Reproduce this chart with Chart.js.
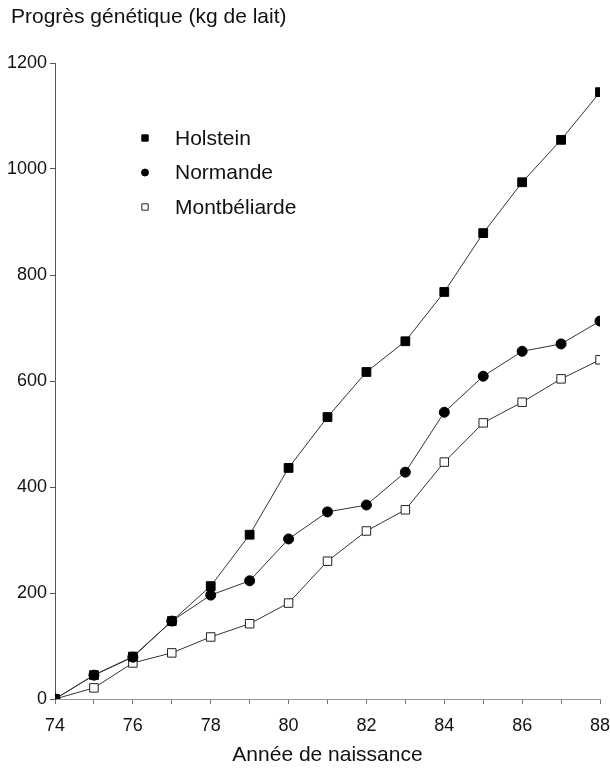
<!DOCTYPE html>
<html>
<head>
<meta charset="utf-8">
<script src="https://cdn.jsdelivr.net/npm/chart.js@4"></script>
<style>
  html, body { margin: 0; padding: 0; background: #fff; }
  #wrap { width: 610px; height: 772px; }
</style>
</head>
<body>
<div id="wrap"><canvas id="progres"></canvas></div>
<script>
const years = [74, 75, 76, 77, 78, 79, 80, 81, 82, 83, 84, 85, 86, 87, 88];
const holstein = [0, 45, 80, 147, 213, 310, 436, 532, 617, 675, 768, 879, 975, 1055, 1145];
const normande = [0, 45, 79, 147, 196, 223, 302, 353, 366, 428, 541, 609, 656, 670, 713];
const montbeliarde = [0, 21, 68, 87, 117, 142, 181, 260, 317, 357, 447, 521, 560, 604, 640];
const seriesNames = ['Holstein', 'Normande', 'Montbéliarde'];
const yTicks = [0, 200, 400, 600, 800, 1000, 1200];
const yTitle = 'Progrès génétique (kg de lait)';

const font = 'Liberation Sans, Arial, Helvetica, sans-serif';

function points(values) {
  return years.map((y, i) => ({ x: y, y: values[i] }));
}

// titre de l'axe y, en haut a gauche
const topTitle = {
  id: 'topTitle',
  afterDraw(chart) {
    const ctx = chart.ctx;
    ctx.save();
    ctx.fillStyle = '#111';
    ctx.font = '21px ' + font;
    ctx.textBaseline = 'middle';
    ctx.textAlign = 'left';
    ctx.fillText(yTitle, 11, 17);
    ctx.restore();
  }
};

// legende dessinee dans la zone du graphique
const insideLegend = {
  id: 'insideLegend',
  afterDraw(chart) {
    const ctx = chart.ctx;
    const area = chart.chartArea;
    const x0 = area.left + 90;
    const y0 = area.top + 75;
    ctx.save();
    chart.data.datasets.forEach((ds, i) => {
      const y = y0 + i * 34.5;
      ctx.fillStyle = ds.pointBackgroundColor;
      ctx.strokeStyle = ds.pointBorderColor;
      ctx.lineWidth = 1;
      Chart.helpers.drawPoint(ctx, {
        pointStyle: ds.pointStyle,
        radius: ds.pointStyle === 'circle' ? 3.5 : 4.5,
        rotation: 0,
        borderWidth: 1
      }, x0, y);
      ctx.fillStyle = '#111';
      ctx.font = '21px ' + font;
      ctx.textBaseline = 'middle';
      ctx.textAlign = 'left';
      ctx.fillText(ds.label, x0 + 30, y + 1);
    });
    ctx.restore();
  }
};

new Chart(document.getElementById('progres'), {
  type: 'line',
  data: {
    datasets: [
      {
        label: seriesNames[0],
        data: points(holstein),
        borderColor: '#333',
        borderWidth: 1,
        pointStyle: 'rect',
        pointRadius: 6.2,
        pointBackgroundColor: '#000',
        pointBorderColor: '#000',
        pointBorderWidth: 1
      },
      {
        label: seriesNames[1],
        data: points(normande),
        borderColor: '#333',
        borderWidth: 1,
        pointStyle: 'circle',
        pointRadius: 5,
        pointBackgroundColor: '#000',
        pointBorderColor: '#000',
        pointBorderWidth: 1
      },
      {
        label: seriesNames[2],
        data: points(montbeliarde),
        borderColor: '#333',
        borderWidth: 1,
        pointStyle: 'rect',
        pointRadius: 6,
        pointBackgroundColor: '#fff',
        pointBorderColor: '#222',
        pointBorderWidth: 1
      }
    ]
  },
  options: {
    responsive: true,
    maintainAspectRatio: false,
    animation: false,
    layout: {
      padding: { left: 0, right: 0, top: 63, bottom: 0 }
    },
    plugins: {
      legend: { display: false },
      tooltip: { enabled: false },
      title: { display: false }
    },
    scales: {
      x: {
        type: 'linear',
        min: 74,
        max: 88,
        afterFit: function(scale) {
          scale.height = 73;
          scale.paddingRight = 10;
        },
        afterBuildTicks: function(scale) {
          scale.ticks = years.map(v => ({ value: v }));
        },
        ticks: {
          autoSkip: false,
          maxRotation: 0,
          padding: 11,
          color: '#111',
          font: { family: font, size: 18 },
          callback: function(value) {
            return value % 2 === 0 ? String(value) : '';
          }
        },
        grid: {
          drawOnChartArea: false,
          drawTicks: true,
          tickLength: 5,
          color: '#777'
        },
        border: { display: true, color: '#999', dash: [10, 6], width: 1 },
        title: {
          display: true,
          text: 'Année de naissance',
          color: '#111',
          font: { family: font, size: 21 },
          padding: { top: 4, bottom: 4 }
        }
      },
      y: {
        min: 0,
        max: 1200,
        afterFit: function(scale) { scale.width = 55; },
        afterBuildTicks: function(scale) {
          scale.ticks = yTicks.map(v => ({ value: v }));
        },
        ticks: {
          padding: 3,
          color: '#111',
          font: { family: font, size: 18 },
          callback: function(value) { return String(value); }
        },
        grid: {
          drawOnChartArea: false,
          drawTicks: true,
          tickLength: 5,
          color: '#555'
        },
        border: { display: true, color: '#555', width: 1 }
      }
    }
  },
  plugins: [topTitle, insideLegend]
});
</script>
</body>
</html>
